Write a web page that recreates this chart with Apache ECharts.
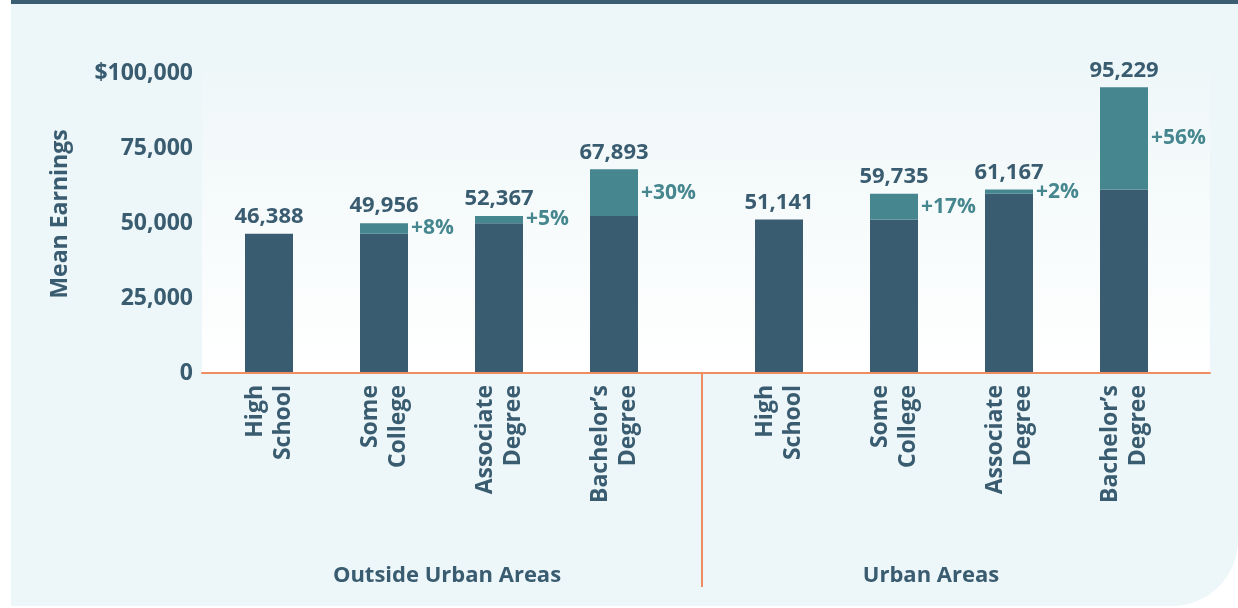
<!DOCTYPE html>
<html>
<head>
<meta charset="utf-8">
<script src="https://cdn.jsdelivr.net/npm/echarts@6/dist/echarts.min.js"></script>
<style>
html, body { margin: 0; padding: 0; background: #fff; }
.panel {
    position: absolute;
    left: 11px;
    top: 0;
    width: 1227px;
    height: 602px;
    background: #edf6f8;
    border-top: 4px solid #3a5d71;
    border-bottom-right-radius: 66px;
}
#chart { position: absolute; left: 0; top: 0; width: 1238px; height: 608px; }
</style>
</head>
<body>
<div class="panel"></div>
<div id="chart"></div>
<script>
// data
const categories = ['High\nSchool', 'Some\nCollege', 'Associate\nDegree', 'Bachelor\u2019s\nDegree']
const outsideTotals = [46388, 49956, 52367, 67893]
const urbanTotals = [51141, 59735, 61167, 95229]
const outsideGains = ['', '+8%', '+5%', '+30%']
const urbanGains = ['', '+17%', '+2%', '+56%']
const yTickLabels = ['0', '25,000', '50,000', '75,000', '$100,000']
const groupNames = ['Outside Urban Areas', 'Urban Areas']

const dark = '#3a5c70'
const teal = '#46878f'
const orange = '#ee8c62'
const font = 'Open Sans'

// base = previous level, gain = step up from it
function splitSteps(totals) {
    let base = [], gain = []
    totals.forEach((v, i) => {
        let prev = i === 0 ? v : totals[i - 1]
        base.push(prev)
        gain.push(v - prev)
    })
    return { base, gain }
}

function groupSeries(totals, gains, idx) {
    let steps = splitSteps(totals)
    let stack = 'g' + idx
    return [
        {
            type: 'bar', xAxisIndex: idx, yAxisIndex: idx, stack: stack,
            barWidth: 48, data: steps.base,
            itemStyle: { color: dark }
        },
        {
            type: 'bar', xAxisIndex: idx, yAxisIndex: idx, stack: stack,
            barWidth: 48, data: steps.gain,
            itemStyle: { color: teal },
            label: {
                show: true, position: 'right', distance: 3,
                formatter: p => gains[p.dataIndex],
                color: teal, fontFamily: font, fontWeight: 700, fontSize: 21
            }
        },
        {
            type: 'bar', xAxisIndex: idx, yAxisIndex: idx, stack: stack,
            barWidth: 48, data: totals.map(() => 0),
            itemStyle: { color: 'transparent' },
            label: {
                show: true, position: 'top', distance: 6,
                formatter: p => totals[p.dataIndex].toLocaleString('en-US'),
                color: dark, fontFamily: font, fontWeight: 700, fontSize: 22
            }
        }
    ]
}

const plotTop = 73, plotH = 300
const axisText = { color: dark, fontFamily: font, fontWeight: 700, fontSize: 23 }

let option = {
    animation: false,
    title: [
        { text: groupNames[0], left: 442, top: 560, textAlign: 'center',
          textStyle: { color: dark, fontFamily: font, fontWeight: 700, fontSize: 22 } },
        { text: groupNames[1], left: 926, top: 560, textAlign: 'center',
          textStyle: { color: dark, fontFamily: font, fontWeight: 700, fontSize: 22 } }
    ],
    grid: [
        {
            left: 202, width: 1008, top: plotTop, height: plotH, show: true, borderWidth: 0,
            backgroundColor: {
                type: 'linear', x: 0, y: 0, x2: 0, y2: 1,
                colorStops: [{ offset: 0, color: '#eff7f8' }, { offset: 1, color: '#ffffff' }]
            }
        },
        { left: 211.5, width: 460, top: plotTop, height: plotH },
        { left: 721.5, width: 460, top: plotTop, height: plotH }
    ],
    xAxis: [
        {
            gridIndex: 0, type: 'category', data: [''], z: 5,
            axisLine: { lineStyle: { color: orange, width: 2 } },
            axisTick: { show: false }, axisLabel: { show: false }
        },
        {
            gridIndex: 1, type: 'category', data: categories,
            axisLine: { show: false }, axisTick: { show: false },
            axisLabel: Object.assign({ rotate: 90, margin: 12, lineHeight: 28 }, axisText)
        },
        {
            gridIndex: 2, type: 'category', data: categories,
            axisLine: { show: false }, axisTick: { show: false },
            axisLabel: Object.assign({ rotate: 90, margin: 12, lineHeight: 28 }, axisText)
        }
    ],
    yAxis: [
        {
            gridIndex: 0, type: 'value', min: 0, max: 100000, interval: 25000,
            name: 'Mean Earnings', nameLocation: 'middle', nameGap: 130,
            nameTextStyle: { color: dark, fontFamily: font, fontWeight: 700, fontSize: 23, padding: [0, 0, 0, 18] },
            axisLine: { show: false }, axisTick: { show: false }, splitLine: { show: false },
            axisLabel: Object.assign({ margin: 9, formatter: (v, i) => yTickLabels[i] }, axisText)
        },
        { gridIndex: 1, type: 'value', min: 0, max: 100000, show: false },
        { gridIndex: 2, type: 'value', min: 0, max: 100000, show: false }
    ],
    graphic: [
        { type: 'line', shape: { x1: 702, y1: 373, x2: 702, y2: 587 },
          style: { stroke: orange, lineWidth: 2 } }
    ],
    series: [].concat(
        groupSeries(outsideTotals, outsideGains, 1),
        groupSeries(urbanTotals, urbanGains, 2)
    )
}

var myChart = echarts.init(document.getElementById('chart'))
myChart.setOption(option)
window.addEventListener('resize', function() {
    myChart.resize()
})
</script>
</body>
</html>
